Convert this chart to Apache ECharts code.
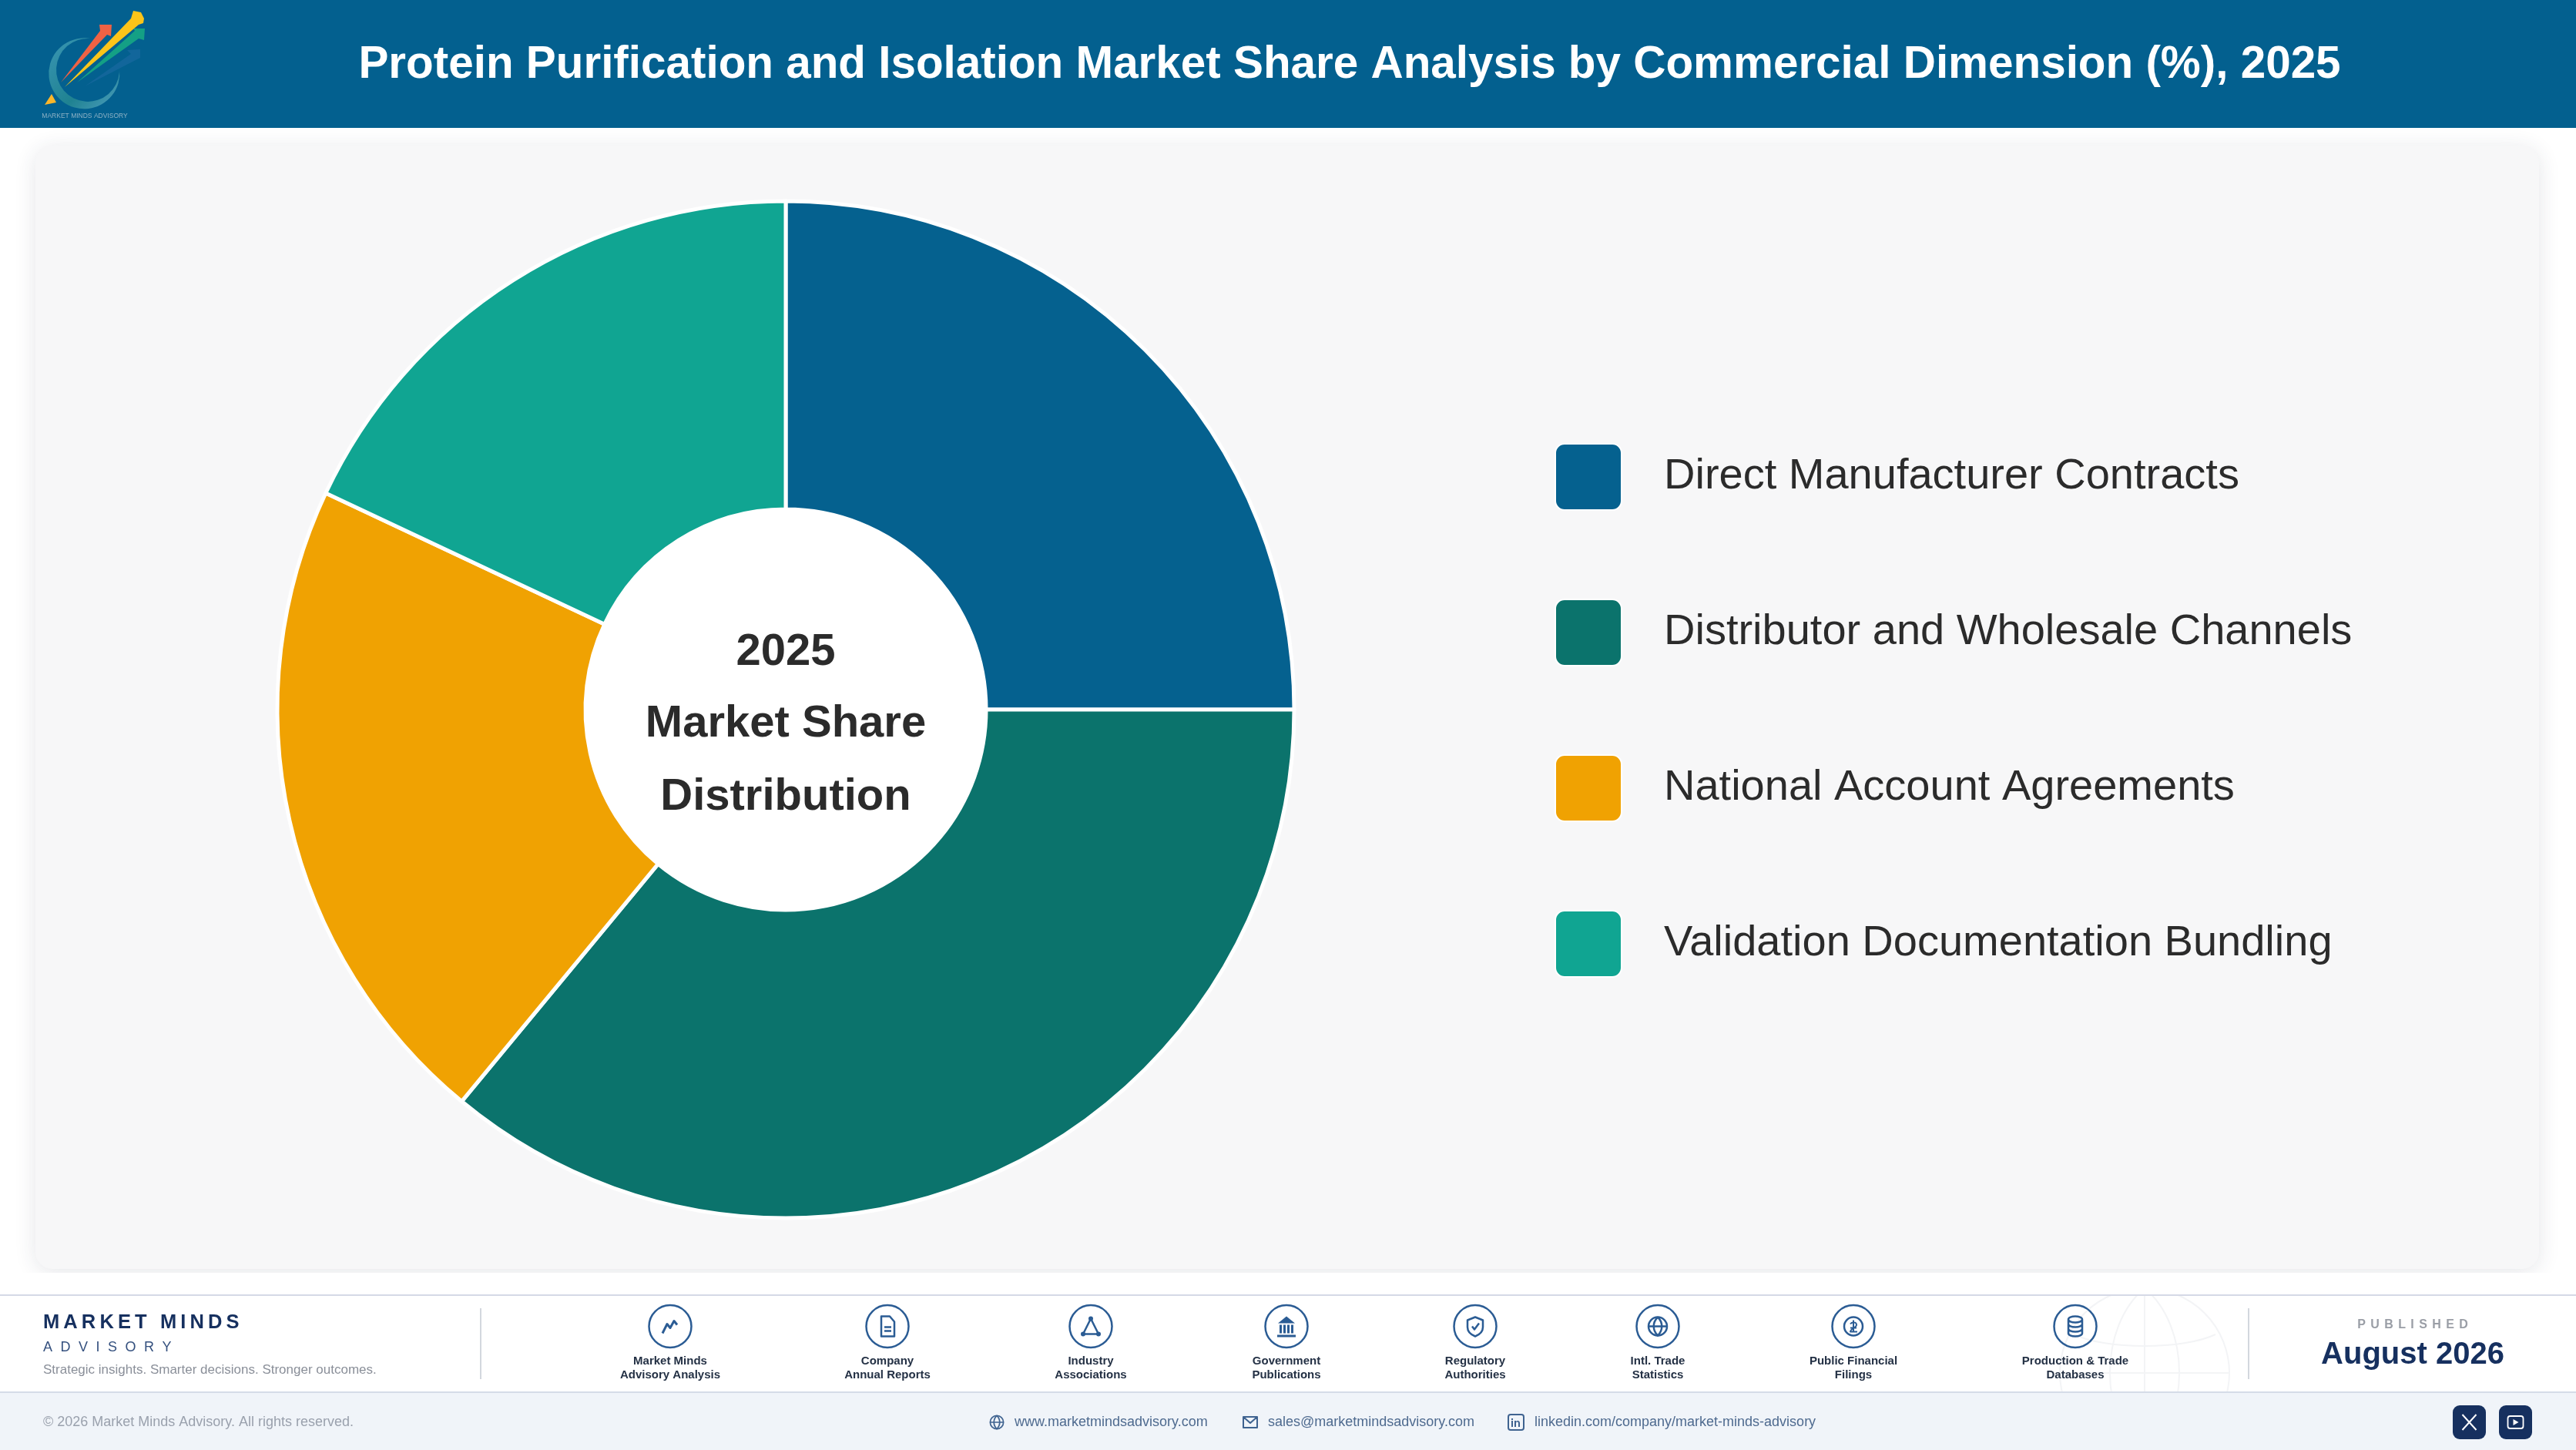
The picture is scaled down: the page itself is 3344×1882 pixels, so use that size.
<!DOCTYPE html>
<html>
<head>
<meta charset="utf-8">
<title>Protein Purification and Isolation Market Share Analysis</title>
<style>
html, body { margin: 0; padding: 0; background: #fff; }
#chart { width: 3344px; height: 1882px; }
</style>
<script src="https://cdn.jsdelivr.net/npm/echarts@6/dist/echarts.min.js"></script>
</head>
<body>
<div id="chart"></div>
<script>
var chartTitle = 'Protein Purification and Isolation Market Share Analysis by Commercial Dimension (%), 2025';
var categories = ['Direct Manufacturer Contracts', 'Distributor and Wholesale Channels', 'National Account Agreements', 'Validation Documentation Bundling'];
var shares = [25, 36, 21, 18];
var centerLines = ['2025', 'Market Share', 'Distribution'];
var sourceLabels = [
    ['Market Minds', 'Advisory Analysis'],
    ['Company', 'Annual Reports'],
    ['Industry', 'Associations'],
    ['Government', 'Publications'],
    ['Regulatory', 'Authorities'],
    ['Intl. Trade', 'Statistics'],
    ['Public Financial', 'Filings'],
    ['Production & Trade', 'Databases']
];

var FONT = '"Liberation Sans", Arial, sans-serif';
var NAVY = '#16305f';
var ICON = '#2b5c94';
var SWATCH = 'path://M12,0H74A12,12 0 0 1 86,12V74A12,12 0 0 1 74,86H12A12,12 0 0 1 0,74V12A12,12 0 0 1 12,0Z';

// the graphic component has no plain path type, so register one shape per outline
var shapeCount = 0;
function pathType(d) {
    var name = 'outline' + (shapeCount++);
    echarts.graphic.registerShape(name, echarts.graphic.extendPath(d, {}));
    return name;
}
function rect(x, y, w, h, fill, r, extra) {
    var el = { type: 'rect', shape: { x: x, y: y, width: w, height: h, r: r || 0 }, style: { fill: fill }, silent: true };
    if (extra) { for (var k in extra) { el.style[k] = extra[k]; } }
    return el;
}
function text(str, x, y, size, color, weight, align) {
    return { type: 'text', x: x, y: y, silent: true, style: {
        text: str, fill: color, font: (weight || 'normal') + ' ' + size + 'px ' + FONT,
        align: align || 'left', verticalAlign: 'middle'
    } };
}
function poly(points, fill, opacity) {
    return { type: 'polygon', silent: true, shape: { points: points }, style: { fill: fill, opacity: opacity == null ? 1 : opacity } };
}
function stroke(d, color, w) {
    return { type: pathType(d), silent: true, style: { fill: 'none', stroke: color || ICON, lineWidth: w || 2.5, lineJoin: 'round' } };
}
function solid(d, color) {
    return { type: pathType(d), silent: true, style: { fill: color || ICON } };
}
function ring(r, color, w) {
    return { type: 'circle', silent: true, shape: { cx: 0, cy: 0, r: r }, style: { fill: 'none', stroke: color || ICON, lineWidth: w || 2.5 } };
}
function spaced(str, sep) {
    return str.split('').join(sep);
}

var sourceX = [870, 1152, 1416, 1670, 1915, 2152, 2406, 2694];
var globeMark = [ring(12), stroke('M-12 0H12M0 -12C-7 -5 -7 5 0 12C7 5 7 -5 0 -12')];
var sourceIcons = [
    [stroke('M-10 9L-4 -3L0 2L5 -7L9 -2', ICON, 3)],
    [stroke('M-8 -13H3L9 -6V13H-8ZM-4 1H5M-4 6H5', ICON, 2.5)],
    [stroke('M0 -10L-10 10H10Z', ICON, 2.5), solid('M-3 -10A3 3 0 1 1 3 -10A3 3 0 1 1 -3 -10ZM-13 10A3 3 0 1 1 -7 10A3 3 0 1 1 -13 10ZM7 10A3 3 0 1 1 13 10A3 3 0 1 1 7 10Z')],
    [solid('M0 -13L-11 -4H11ZM-12 11H12V14H-12ZM-9 -2H-6V9H-9ZM-4 -2H-1V9H-4ZM1 -2H4V9H1ZM6 -2H9V9H6Z')],
    [stroke('M0 -12L10 -8V1C10 7 5 11 0 13C-5 11 -10 7 -10 1V-8Z', ICON, 2.5), stroke('M-4 0L-1 4L5 -4', ICON, 2.5)],
    globeMark,
    [ring(12), stroke('M-4 -3C-2 -6 4 -6 4 -2C4 2 -4 3 -4 7H5M0 -8V7M-4 2H4', ICON, 2)],
    [stroke('M-9 -9A9 4 0 1 0 9 -9A9 4 0 1 0 -9 -9ZM-9 -9V9A9 4 0 0 0 9 9V-9M-9 -3A9 4 0 0 0 9 -3M-9 3A9 4 0 0 0 9 3', ICON, 2.5)]
];

var elements = [];
// page, card and the white hole of the donut
elements.push(rect(0, 0, 3344, 1882, '#ffffff'));
elements.push(rect(46, 189, 3250, 1458, '#f7f7f8', 22, { shadowBlur: 28, shadowColor: 'rgba(40,50,70,0.12)', shadowOffsetY: 4 }));
elements.push({ type: 'circle', silent: true, shape: { cx: 1020, cy: 921, r: 263 }, style: { fill: '#ffffff' } });

// header
elements.push(rect(0, 0, 3344, 166, '#03608f'));
elements.push({ type: pathType('M155 90A46 46 0 1 1 117 50A41 41 0 1 0 155 90Z'), silent: true,
    style: { fill: new echarts.graphic.LinearGradient(0, 0, 1, 1, [{ offset: 0, color: '#3a96b4' }, { offset: 0.6, color: '#1f8291' }, { offset: 1, color: '#4f9fc0' }]) } });
elements.push(poly([[110, 112], [170, 70], [165, 65], [182, 64], [182, 75]], '#1a6aa0', 0.7));
elements.push(poly([[100, 107], [175, 40], [173, 37], [188, 37], [187, 52], [180, 50]], '#14a085'));
elements.push(poly([[79, 107], [130, 40], [129, 32], [145, 32], [144, 47], [139, 45]], '#ef6244'));
elements.push(poly([[84, 113], [170, 24], [173, 14], [183, 16], [187, 24], [186, 30], [180, 32]], '#fcc419'));
elements.push(poly([[58, 136], [67, 122], [73, 133]], '#fbb62a'));
elements.push(text('MARKET MINDS ADVISORY', 110, 151, 8.5, '#8fb2c5', 'normal', 'center'));

// footer band, faint globe behind it
elements.push({ type: 'group', x: 2784, y: 1782, silent: true, children: [
    ring(110, '#f3f4f6', 2),
    stroke('M0 -110C-60 -60 -60 60 0 110C60 60 60 -60 0 -110M0 -110V110M-110 0H110M-92 -50C-50 -30 50 -30 92 -50', '#f3f4f6', 2)
] });
elements.push(rect(0, 1652, 3344, 28, '#ffffff'));
elements.push(rect(0, 1680, 3344, 2, '#d5d9e6'));
elements.push(rect(0, 1806, 3344, 76, '#f0f4f9'));
elements.push(rect(0, 1806, 3344, 2, '#d5dce8'));
elements.push(text(spaced('MARKET MINDS', '\u2009'), 56, 1717, 25.5, NAVY, 'bold'));
elements.push(text(spaced('ADVISORY', '\u2002\u200a'), 56, 1749, 18, '#34507e'));
elements.push(text('Strategic insights. Smarter decisions. Stronger outcomes.', 56, 1778, 17, '#8a8f99'));
elements.push(rect(623, 1698, 2, 92, '#d3d7de'));
elements.push(rect(2918, 1698, 2, 92, '#d3d7de'));

sourceLabels.forEach(function (lines, i) {
    elements.push({ type: 'group', x: sourceX[i], y: 1721.5, silent: true, children: [ring(27.5)].concat(sourceIcons[i]) });
    elements.push(text(lines[0], sourceX[i], 1767, 15, '#243145', 'bold', 'center'));
    elements.push(text(lines[1], sourceX[i], 1785, 15, '#243145', 'bold', 'center'));
});

elements.push(text(spaced('PUBLISHED', '\u2009\u2009'), 3132, 1720, 16, '#9a9ea6', 'bold', 'center'));
elements.push(text('August 2026', 3132, 1759, 40, NAVY, 'bold', 'center'));

// bottom strip
elements.push(text('\u00a9 2026 Market Minds Advisory. All rights reserved.', 56, 1846, 18, '#9aa1ad'));
elements.push(text('www.marketmindsadvisory.com', 1317, 1846, 18, '#4e6a8f'));
elements.push(text('sales@marketmindsadvisory.com', 1646, 1846, 18, '#4e6a8f'));
elements.push(text('linkedin.com/company/market-minds-advisory', 1992, 1846, 18, '#4e6a8f'));
elements.push({ type: 'group', x: 1294, y: 1846, scaleX: 0.72, scaleY: 0.72, silent: true, children: [
    ring(12, '#3f6390', 2.4), stroke('M-12 0H12M0 -12C-7 -5 -7 5 0 12C7 5 7 -5 0 -12', '#3f6390', 2.4)
] });
elements.push({ type: 'group', x: 1623, y: 1846, silent: true, children: [
    stroke('M-9 -7H9V7H-9ZM-9 -7L0 1L9 -7', '#3f6390', 2)
] });
elements.push({ type: 'group', x: 1968, y: 1846, silent: true, children: [
    stroke('M-7 -10H7A3 3 0 0 1 10 -7V7A3 3 0 0 1 7 10H-7A3 3 0 0 1 -10 7V-7A3 3 0 0 1 -7 -10Z', '#3f6390', 2),
    solid('M-6 -2H-4V6H-6ZM-6 -5H-4V-3H-6ZM-2 -2H0V-1C1 -2.5 5 -3 5 1V6H3V1C3 -1 0 -1 0 1V6H-2Z', '#3f6390')
] });
elements.push(rect(3184, 1824, 43, 44, NAVY, 9));
elements.push(rect(3244, 1824, 43, 44, NAVY, 9));
elements.push({ type: 'group', x: 3205.5, y: 1846, silent: true, children: [stroke('M-9 -10L9 10M9 -10L-9 10', '#ffffff', 2)] });
elements.push({ type: 'group', x: 3265.5, y: 1846, silent: true, children: [
    stroke('M-7 -8H7A3 3 0 0 1 10 -5V5A3 3 0 0 1 7 8H-7A3 3 0 0 1 -10 5V-5A3 3 0 0 1 -7 -8Z', '#ffffff', 1.8),
    solid('M-3 -4L4 0L-3 4Z', '#ffffff')
] });

var centerY = [847, 940, 1035];
var titles = [{
    text: chartTitle, left: 1752, top: 85, textAlign: 'center', textVerticalAlign: 'middle', padding: 0,
    textStyle: { color: '#ffffff', fontFamily: FONT, fontWeight: 'bold', fontSize: 58.4 }
}];
centerLines.forEach(function (line, i) {
    titles.push({
        text: line, left: 1020, top: centerY[i], textAlign: 'center', textVerticalAlign: 'middle', padding: 0,
        textStyle: { color: '#2b2b2b', fontFamily: FONT, fontWeight: 'bold', fontSize: 58 }
    });
});

var chart = echarts.init(document.getElementById('chart'), null, { renderer: 'canvas', width: 3344, height: 1882 });
chart.setOption({
    animation: false,
    backgroundColor: '#ffffff',
    color: ['#05618f', '#0b736c', '#f0a202', '#10a592'],
    title: titles,
    graphic: { elements: elements },
    legend: {
        data: categories, orient: 'vertical', left: 2018, top: 575, padding: 0,
        itemWidth: 86, itemHeight: 86, itemGap: 114, icon: SWATCH, selectedMode: false,
        textStyle: { color: '#2b2b2b', fontFamily: FONT, fontSize: 56, padding: [7, 0, 0, 50] }
    },
    series: [{
        type: 'pie', center: [1020, 921], radius: [260, 660], startAngle: 90, clockwise: true,
        silent: true, label: { show: false }, labelLine: { show: false },
        itemStyle: { borderColor: '#ffffff', borderWidth: 5 },
        data: categories.map(function (name, i) { return { name: name, value: shares[i] }; })
    }]
});
</script>
</body>
</html>
